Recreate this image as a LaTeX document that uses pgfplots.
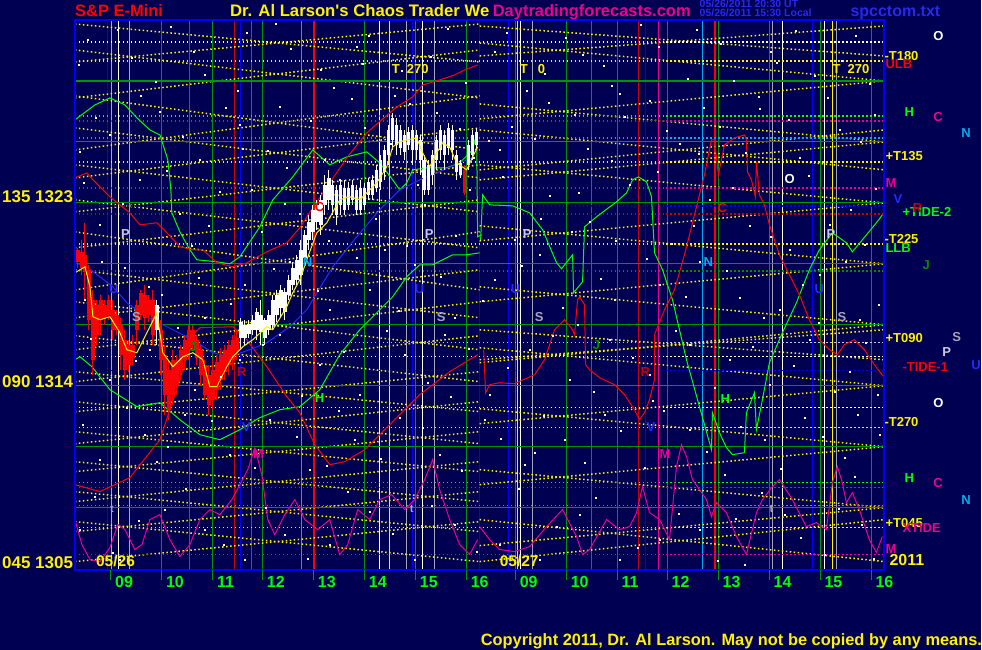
\documentclass[border=0pt]{standalone}
\usepackage{pgfplots}
\pgfplotsset{compat=1.18}
\usepackage{pgfplotstable}
\usepackage{fontspec}
\setmainfont{Liberation Sans}
\definecolor{bg}{RGB}{0,0,82}
\definecolor{gline}{RGB}{0,150,0}
\definecolor{dred}{RGB}{200,0,0}
\definecolor{lgray}{RGB}{200,200,230}
\definecolor{mgray}{RGB}{165,165,185}
\definecolor{tblue}{RGB}{40,40,235}
\definecolor{lgreen}{RGB}{0,255,0}
\definecolor{dgreen}{RGB}{0,140,0}
\definecolor{lblue}{RGB}{40,40,255}

\pgfplotstableread{
x hi lo bt bb
78 248 268 250 262
82 240 275 252 268
85 223 300 255 270
89 265 330 270 320
93 290 375 300 360
97 300 345 305 335
101 295 335 300 320
105 300 325 305 318
109 295 320 300 315
113 300 340 310 330
117 310 335 315 330
121 318 370 325 355
125 330 380 340 370
129 340 372 345 365
133 335 365 345 358
137 300 345 305 330
141 290 320 293 315
145 285 330 295 318
149 295 322 300 315
153 290 345 300 335
161 320 375 330 360
165 345 415 355 395
169 360 420 370 410
173 350 405 360 395
177 355 395 362 385
181 345 380 350 370
185 335 370 340 360
189 325 360 330 350
193 325 350 330 345
197 335 365 340 358
201 345 385 350 375
205 360 400 365 395
209 365 415 375 405
213 360 410 370 400
217 355 400 362 390
221 348 390 355 380
225 345 380 350 372
229 340 375 345 365
233 335 370 340 360
237 330 360 338 352
465 165 195 170 193
}\redbars

\pgfplotstableread{
x hi lo bt bb
157 300 345 305 330
241 318 350 322 338
245 320 345 325 338
249 320 338 324 334
253 315 335 320 330
257 308 340 312 330
261 300 345 315 332
265 318 345 320 338
269 310 335 315 330
273 295 330 300 325
277 290 322 295 315
281 285 318 290 308
285 288 320 292 312
289 275 300 280 295
293 262 290 268 285
297 255 285 260 280
301 240 285 250 275
305 230 265 235 258
309 215 250 222 240
313 205 240 210 232
317 200 230 205 222
321 195 235 200 225
325 175 215 185 205
329 170 210 178 200
333 180 215 185 205
337 185 225 190 215
341 180 215 185 205
345 180 215 188 210
349 182 210 188 205
353 180 205 185 200
357 185 215 190 210
361 180 215 188 210
365 183 210 188 205
369 178 200 182 195
373 175 200 180 195
377 165 192 170 188
381 155 190 160 182
385 145 180 150 172
389 125 165 130 155
393 113 150 118 140
397 118 155 125 145
401 125 155 130 148
405 130 160 135 152
409 127 150 132 145
413 125 165 130 150
417 130 160 135 150
421 135 175 140 160
425 155 195 160 190
429 160 195 165 190
433 150 185 155 175
437 135 170 140 160
441 125 160 130 150
445 130 170 135 155
449 123 155 128 148
453 125 160 130 150
457 150 180 155 172
461 160 178 163 175
469 140 170 145 165
473 130 160 135 155
477 128 150 132 145
}\whitebars

\newcommand{\T}[4][13]{\node[anchor=base west, inner sep=0pt, text=#2, font=\fontsize{#1}{#1}\selectfont\bfseries] at (axis cs:#3) {#4};}
\newcommand{\V}[3][1pt]{\addplot[#2, line width=#1] coordinates {(#3,20) (#3,570)};}
\newcommand{\HD}[2]{\addplot[#1, line width=1.5pt, dash pattern=on 1.5pt off 2.5pt] coordinates {(75,#2) (885,#2)};}
\newcommand{\HS}[1]{\addplot[gline, line width=1.2pt] coordinates {(75,#1) (885,#1)};}
\newcommand{\D}[4]{\addplot[yellow, line width=1.5pt, dash pattern=on 1.5pt off 2.5pt] coordinates {(#1,#2) (#3,#4)};}
\newcommand{\DX}[4]{\D{#1}{#2}{#3}{#4}\D{#1}{#4}{#3}{#2}}
\newcommand{\TK}[2]{\addplot[gline, line width=1pt] coordinates {(#1,570) (#1,580)};\T[16]{lgreen}{#1+4,588}{#2}}
\newcommand{\Candles}[3]{%
\addplot[draw=none, mark=none, error bars/.cd, y dir=both, y explicit, error mark=none,
  error bar style={draw=#2, line width=1pt}]
  table[x=x, y expr={(\thisrow{hi}+\thisrow{lo})/2}, y error expr={(\thisrow{lo}-\thisrow{hi})/2}] {#1};
\addplot[draw=none, mark=none, error bars/.cd, y dir=both, y explicit, error mark=none,
  error bar style={draw=#2, line width=#3}]
  table[x=x, y expr={(\thisrow{bt}+\thisrow{bb})/2}, y error expr={(\thisrow{bb}-\thisrow{bt})/2}] {#1};}

\begin{document}
\begin{tikzpicture}
\fill[bg] (0,0) rectangle (982pt,650pt);
\begin{axis}[at={(0,0)}, anchor=south west, x=1pt, y=1pt, xmin=0, xmax=982, ymin=0, ymax=650,
  y dir=reverse, hide axis, clip=false]

% vertical lines
\V{gline}{162}\V{gline}{190}\V{gline}{213}\V{gline}{263}\V{gline}{314}\V{gline}{365}\V{gline}{416}\V{gline}{467}
\V{gline}{516}\V{gline}{567}\V{gline}{592}\V{gline}{618}\V{gline}{668}\V{gline}{719}\V{gline}{770}\V{gline}{821}\V{gline}{872}
\V{blue}{108}\V{mgray}{112}\V{white}{119}\V{mgray}{130}\V{dred}{235}\V{blue}{241}\V{magenta}{252}\V{cyan}{302}\V[1.5pt]{red}{314}
\V{white}{380}\V{yellow}{390}\V{mgray}{407}\V{blue}{413}\V{white}{423}\V{mgray}{435}\V[1.2pt]{blue}{480}
\V{blue}{509}\V{yellow}{518}\V{white}{521}\V{mgray}{533}\V{dred}{639}\V{blue}{646}\V{magenta}{659}\V{cyan}{703}\V[2pt]{red}{716}
\V{mgray}{773}\V{white}{783}\V{blue}{813}\V{white}{825}\V{yellow}{833}\V{mgray}{837}

% diagonals day 1
\DX{75}{24}{480}{62}\DX{75}{50}{480}{98}\DX{75}{96}{480}{150}\DX{75}{128}{480}{178}
\DX{75}{165}{480}{212}\DX{75}{200}{480}{248}\DX{75}{232}{480}{290}\DX{75}{270}{480}{318}
\DX{75}{302}{480}{350}\DX{75}{336}{480}{382}\DX{75}{372}{480}{412}\DX{75}{402}{480}{444}
\DX{75}{432}{480}{472}\DX{75}{462}{480}{502}\DX{75}{492}{480}{532}\DX{75}{522}{480}{562}
% diagonals day 2
\D{480}{43}{885}{81}\D{480}{119}{885}{81}\D{480}{104}{885}{142}\D{480}{180}{885}{142}
\D{480}{165}{885}{203}\D{480}{241}{885}{203}\D{480}{226}{885}{264}\D{480}{302}{885}{264}
\D{480}{287}{885}{325}\D{480}{363}{885}{325}\D{480}{348}{885}{386}\D{480}{424}{885}{386}
\D{480}{409}{885}{447}\D{480}{485}{885}{447}\D{480}{470}{885}{508}\D{480}{546}{885}{508}
\DX{480}{26}{885}{56}\DX{480}{520}{885}{562}\DX{480}{130}{885}{170}\DX{480}{330}{885}{360}

% horizontal lines
\HS{81}\HS{142}\HS{203}\HS{264}\HS{325}\HS{386}\HS{447}\HS{508}
\HD{white}{42}\HD{yellow}{61}\HD{lgreen}{116}\HD{magenta}{121}\HD{cyan}{138}\HD{yellow}{162}
\HD{magenta}{188}\HD{blue}{206}\HD{dred}{214}\HD{yellow}{244}\HD{dgreen}{271}\HD{lgray}{343}
\HD{white}{357}\HD{blue}{371}\HD{white}{408}\HD{yellow}{428}\HD{lgreen}{483}\HD{magenta}{488}
\HD{cyan}{506}\HD{yellow}{528}\HD{magenta}{555}

% star dots
\addplot[only marks, mark=square*, mark size=0.6pt, white] coordinates {
(88,40)(132,58)(171,27)(205,75)(247,33)(291,49)(334,88)(369,36)(402,71)(448,29)(495,52)(527,91)(566,38)(604,66)(641,25)(688,79)(721,44)(759,97)(796,31)(842,61)(870,84)
(96,118)(141,96)(183,137)(226,108)(268,151)(311,121)(352,99)(391,144)(437,113)(474,158)(512,127)(549,103)(588,149)(625,117)(667,131)(704,108)(746,153)(789,120)(828,98)(861,142)
(84,183)(123,204)(167,171)(209,226)(252,190)(287,168)(329,241)(376,219)(418,185)(456,236)(503,177)(541,219)(579,193)(616,241)(658,172)(694,226)(733,188)(771,237)(809,176)(851,210)(876,189)
(102,262)(149,287)(192,246)(231,304)(274,269)(318,291)(357,258)(399,311)(441,277)(483,301)(522,266)(563,308)(601,279)(647,259)(686,297)(727,271)(764,318)(803,285)(846,262)(879,305)
(91,339)(136,361)(178,328)(221,377)(263,345)(302,396)(344,352)(387,331)(428,383)(469,349)(508,368)(553,336)(594,392)(633,358)(676,331)(715,388)(753,347)(794,366)(835,392)(866,343)
(83,425)(127,408)(168,447)(212,421)(255,468)(297,437)(339,411)(381,459)(423,428)(462,471)(501,439)(544,416)(585,463)(621,431)(664,411)(707,452)(741,427)(781,469)(823,437)(858,415)
(95,497)(139,521)(186,489)(224,545)(266,508)(308,559)(348,492)(393,534)(432,506)(477,552)(519,489)(557,527)(596,498)(638,548)(679,514)(718,561)(762,493)(801,538)(839,509)(874,559)
(113,553)(157,462)(199,278)(243,149)(285,204)(327,466)(363,64)(407,246)(451,397)(489,141)(535,453)(572,232)(612,86)(653,401)(699,154)(736,519)(777,63)(819,323)(855,477)
(79,65)(118,30)(156,82)(194,52)(238,91)(276,24)(321,70)(357,47)(395,96)(431,57)(466,83)(507,33)(545,74)(583,55)(620,94)(659,47)(697,30)(734,81)(771,52)(815,76)(856,36)
(80,152)(110,135)(160,112)(200,160)(240,125)(280,107)(325,160)(365,128)(410,104)(460,129)(500,150)(535,139)(575,115)(612,161)(650,101)(680,144)(720,127)(760,109)(800,158)(840,130)(875,115)
(100,225)(140,180)(180,214)(220,192)(262,232)(300,214)(340,180)(385,250)(425,205)(470,190)(515,240)(550,196)(590,222)(630,185)(672,244)(710,200)(750,226)(790,250)(830,225)(865,245)
(85,300)(125,268)(162,295)(205,318)(245,285)(290,262)(330,310)(370,290)(415,265)(455,318)(495,280)(540,255)(578,325)(615,300)(660,285)(700,262)(740,298)(780,310)(820,275)(860,320)
(110,380)(150,350)(195,390)(240,360)(280,335)(320,365)(360,395)(405,355)(445,335)(490,395)(530,350)(570,380)(610,340)(650,375)(690,345)(730,360)(770,385)(810,340)(850,372)(878,395)
(100,460)(145,435)(185,415)(230,455)(270,420)(310,470)(355,440)(400,418)(440,455)(485,420)(525,465)(565,440)(605,415)(645,468)(690,430)(725,475)(765,440)(805,418)(845,458)(880,435)
(80,530)(120,560)(165,510)(205,530)(245,560)(285,535)(330,545)(370,512)(415,560)(455,525)(500,545)(540,560)(580,515)(620,560)(660,540)(700,530)(745,565)(785,515)(825,555)(862,525)};

% magenta oscillator
\addplot[magenta, line width=1pt] coordinates {(75,520)(82,545)(90,560)(100,562)(110,548)(118,525)(125,530)(135,550)(142,545)(150,520)(160,515)(170,540)(180,557)(190,545)(200,520)(210,510)(220,515)(232,500)(240,485)(248,470)(255,448)(262,475)(268,520)(275,535)(285,515)(295,500)(305,520)(318,530)(330,520)(340,555)(348,545)(358,510)(370,520)(380,500)(392,495)(405,510)(415,500)(425,480)(433,460)(440,490)(450,520)(460,545)(470,555)(478,540)};
\addplot[magenta, line width=1pt] coordinates {(480,527)(490,540)(500,550)(515,552)(530,547)(547,527)(563,510)(577,537)(583,555)(590,550)(607,520)(620,530)(630,527)(637,513)(643,487)(650,513)(660,520)(670,540)(677,467)(682,445)(687,457)(693,480)(707,500)(712,517)(717,503)(727,513)(737,537)(747,555)(757,513)(763,500)(773,487)(780,480)(793,500)(807,527)(817,523)(827,530)(833,483)(838,467)(843,483)(847,503)(853,493)(860,510)(870,540)(877,553)(883,537)};

% green lines
\addplot[lgreen, line width=1pt] coordinates {(75,120)(95,105)(110,98)(125,105)(137,118)(150,130)(160,135)(168,160)(171,190)(172,213)(180,232)(190,250)(197,260)(217,262)(230,264)(240,257)(260,227)(273,200)(293,177)(313,150)(330,165)(347,157)(367,152)(380,163)(393,180)(400,190)(407,183)(413,170)(427,168)(447,168)(460,163)(473,150)(477,133)(478,237)(482,235)};
\addplot[lgreen, line width=1pt] coordinates {(75,360)(80,357)(92,367)(110,390)(137,407)(160,403)(180,420)(200,435)(220,440)(240,430)(260,418)(280,410)(300,407)(320,390)(340,355)(360,330)(380,310)(393,297)(407,277)(420,265)(433,265)(453,255)(467,255)(480,253)};
\addplot[lgreen, line width=1pt] coordinates {(481,240)(483,195)(490,205)(513,206)(530,213)(543,230)(557,263)(562,269)(573,255)(574,293)(583,282)(585,227)(597,217)(617,202)(627,193)(633,180)(639,177)(647,182)(652,197)(655,253)(663,270)(673,300)(687,360)(700,407)(712,450)(713,413)(720,433)(727,448)(733,455)(745,453)(747,413)(755,393)(757,430)(763,400)(770,363)(783,333)(797,303)(810,270)(820,250)(833,233)(847,243)(853,252)(863,240)(877,223)(883,215)};

% red lines
\addplot[red, line width=1pt] coordinates {(75,178)(87,173)(93,180)(110,197)(130,213)(140,225)(157,223)(167,233)(180,247)(193,250)(203,250)(217,263)(233,267)(247,263)(267,252)(287,243)(300,228)(313,208)(330,183)(347,158)(367,133)(390,113)(397,107)(413,97)(423,85)(440,80)(455,75)(465,70)(478,65)};
\addplot[red, line width=1pt] coordinates {(75,485)(100,492)(130,478)(160,440)(180,380)(193,335)(200,328)(233,327)(247,340)(267,367)(287,397)(300,413)(315,445)(330,465)(345,462)(365,450)(390,425)(420,395)(450,372)(478,355)};
\addplot[red, line width=1pt] coordinates {(484,350)(486,393)(490,385)(500,383)(515,384)(535,375)(545,360)(555,330)(565,320)(573,330)(575,335)(578,300)(580,297)(585,305)(586,365)(590,370)(600,378)(615,385)(625,395)(635,410)(640,420)(645,413)(650,400)(655,380)(655,335)(665,310)(675,290)(685,255)(695,215)(705,175)(712,140)(715,140)(719,175)(725,145)(735,138)(745,135)(747,140)(748,172)(752,180)(756,197)(757,162)(760,195)(765,205)(770,225)(780,255)(790,275)(800,295)(810,320)(820,340)(830,350)(838,355)(845,345)(855,340)(865,350)(875,365)(885,378)};

% blue line
\addplot[lblue, line width=1pt] coordinates {(75,263)(87,267)(100,277)(113,287)(127,303)(147,317)(167,327)(193,340)(213,353)(230,357)(250,350)(267,343)(290,327)(307,310)(313,300)(333,267)(357,237)(380,210)(400,190)(420,180)(437,173)(460,163)(475,157)};

% candles
\Candles{\redbars}{red}{3.5pt}
\Candles{\whitebars}{white}{3.5pt}

% yellow smoothed price
\addplot[yellow, line width=1pt] coordinates {(75,273)(85,267)(90,287)(93,317)(100,320)(110,317)(120,333)(127,350)(137,353)(147,333)(157,313)(163,353)(173,367)(183,357)(193,353)(203,360)(210,387)(217,387)(227,367)(233,357)(243,347)(253,340)(267,327)(273,330)(287,307)(293,293)(300,280)(307,260)(317,233)(327,223)(340,200)(350,197)(360,200)(367,193)(377,183)(387,167)(393,147)(400,142)(407,140)(417,138)(423,153)(430,167)(437,153)(443,143)(450,147)(457,163)(467,170)(473,157)(478,147)};

% frame and ticks
\draw[blue, line width=2pt] (axis cs:75,20) rectangle (axis cs:885,570);
\TK{111}{09}\TK{162}{10}\TK{213}{11}\TK{263}{12}\TK{314}{13}\TK{365}{14}\TK{416}{15}\TK{467}{16}
\TK{516}{09}\TK{567}{10}\TK{618}{11}\TK{668}{12}\TK{719}{13}\TK{770}{14}\TK{821}{15}\TK{872}{16}

% titles
\T[16.5]{red}{75,17}{S\&P E-Mini}
\T[16.7]{yellow}{230,17}{Dr. Al Larson\textquotesingle s Chaos Trader We}
\T[16.5]{magenta}{493,17}{Daytradingforecasts.com}
\T[10.5]{tblue}{700,8}{05/26/2011 20:30 UT}
\T[10.5]{tblue}{700,17}{05/26/2011 15:30 Local}
\T[16]{tblue}{851,17}{spcctom.txt}
\T[17]{yellow}{2,203}{135 1323}
\T[17]{yellow}{2,388}{090 1314}
\T[17]{yellow}{2,569}{045 1305}
\T[15.5]{yellow}{96,567}{05/26}
\T[15.5]{yellow}{500,567}{05/27}
\T[16.4]{yellow}{481,646}{Copyright 2011, Dr. Al Larson. May not be copied by any means.}

% in-plot labels
\T{yellow}{392,74}{T}\T{yellow}{407,74}{270}
\T{yellow}{520,74}{T}\T{yellow}{538,74}{0}
\T{yellow}{833,74}{T}\T{yellow}{848,74}{270}
\T{lgray}{121,239}{P}\T{lgray}{425,239}{P}\T{lgray}{523,239}{P}\T{lgray}{827,239}{P}
\T{mgray}{132,322}{S}\T{mgray}{437,322}{S}\T{mgray}{535,322}{S}\T{mgray}{838,322}{S}
\T{lblue}{109,294}{U}\T{lblue}{415,294}{U}\T{lblue}{511,294}{U}\T{lblue}{815,294}{U}
\T{cyan}{303,267}{N}\T{cyan}{704,267}{N}
\T{red}{315,212}{C}\T{red}{718,213}{C}
\T{lgreen}{315,403}{H}\T{lgreen}{721,404}{H}
\T{dred}{237,377}{R}\T{dred}{641,377}{R}
\T{lblue}{242,432}{V}\T{lblue}{647,432}{V}
\T{magenta}{253,459}{M}\T{magenta}{660,459}{M}
\T{dgreen}{189,352}{J}\T{dgreen}{593,350}{J}
\T{white}{785,184}{O}
\T[11]{mgray}{110,513}{t}\T[11]{mgray}{410,513}{t}\T[11]{mgray}{770,513}{t}

% right-side labels
\T{yellow}{885,61}{-T180}
\T{red}{886,69}{ULB}
\T{white}{934,41}{O}
\T{lgreen}{905,117}{H}
\T{magenta}{934,122}{C}
\T{cyan}{962,138}{N}
\T{yellow}{886,161}{+T135}
\T{magenta}{886,188}{M}
\T{lblue}{894,204}{V}
\T{lgreen}{903,217}{+TIDE-2}
\T{dred}{913,213}{R}
\T{yellow}{885,244}{-T225}
\T{lgreen}{886,253}{LLB}
\T{dgreen}{923,270}{J}
\T{yellow}{886,343}{+T090}
\T{mgray}{953,342}{S}
\T{lgray}{943,357}{P}
\T{lblue}{972,370}{U}
\T{red}{903,372}{-TIDE-1}
\T{white}{934,408}{O}
\T{yellow}{885,427}{-T270}
\T{lgreen}{905,483}{H}
\T{magenta}{934,488}{C}
\T{cyan}{962,505}{N}
\T{yellow}{886,528}{+T045}
\T{magenta}{903,533}{XTIDE}
\T{magenta}{886,554}{M}
\T[16]{yellow}{890,566}{2011}
\end{axis}
\end{tikzpicture}
\end{document}
